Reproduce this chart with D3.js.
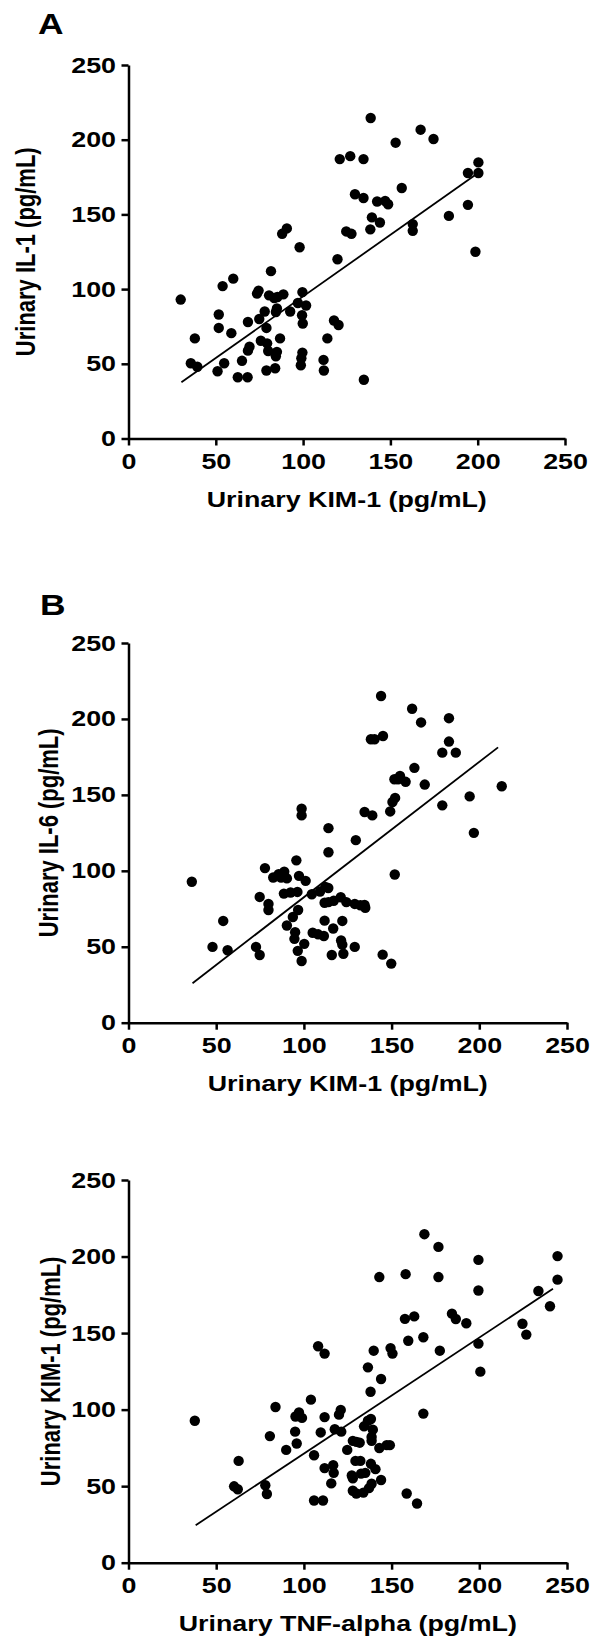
<!DOCTYPE html>
<html>
<head>
<meta charset="utf-8">
<script src="https://cdn.jsdelivr.net/npm/d3@7"></script>
<style>
  html, body { margin: 0; padding: 0; background: #fff; }
</style>
</head>
<body>
<div id="chart"></div>
<script>
/* ---------------- data ---------------- */

const axisTicks = [0, 50, 100, 150, 200, 250];

// panel A : KIM-1 (x) vs IL-1 (y)
const kimVsIl1 = [
  [29.9,93],[38,67],[35.7,50.4],[39.4,48],[51,45],[54.8,50.4],[51.7,83],[51.7,74],
  [53.9,102],[60,107],[58.9,70.5],[65,52],[62.6,41],[68.2,41],[68.4,78],[69.3,61.4],
  [68.4,58.8],[74.5,99],[73.6,97],[74.9,80],[78,85],[79,74],[75.8,65.4],[79.4,63.7],
  [80,58.6],[79,45.5],[81.6,112],[80.5,95.8],[83.5,94],[85.3,94.7],[85,87],[84.4,84.7],
  [85,58],[84.4,55],[84,47],[86.8,67],[88,137],[90.7,140.6],[88.7,96.5],[92.6,85],
  [98,128],[99.6,98],[97,90.7],[101.7,89],[99.4,82.5],[99.8,77],[99.6,57.5],[99,53.7],
  [98.7,49],[111.7,52.6],[111.9,45.5],[113.9,67],[117.7,79],[120.3,76],[119.7,120],
  [121,187],[127,189],[124.7,138.6],[127.7,137],[129.7,163.5],[134.6,187],[134.6,161],
  [134.8,39.3],[138.7,214.5],[138.5,140],[139.4,148],[144,144.6],[142.4,158.6],
  [148.7,156.8],[147,159],[153,198],[156.5,167.7],[162.8,143.5],[162.8,139],
  [167.3,206.7],[174.7,200.5],[183.5,149],[194.4,156.4],[194.4,177.7],[198.7,125],
  [200.4,184.8],[200.4,177.7]
];
const fitA = [[30.3, 37.7], [199.6, 177.2]];

// panel B : KIM-1 (x) vs IL-6 (y)
const kimVsIl6 = [
  [36.1,92.8],[47.9,49.9],[54,67],[56.5,47.7],[72.7,49.9],[74.8,44.6],[74.8,82.8],
  [79.8,78.2],[79.8,74.2],[77.8,101.8],[82.5,95.6],[85.6,97.8],[87,95.6],[88.8,99.4],
  [90.3,95],[88.6,85],[92.4,85.7],[95.7,106.9],[96.3,86.1],[90.3,64],[93.7,69.6],
  [96.7,74.2],[95,59.6],[94.6,55.2],[96.5,47.3],[98.7,40.6],[100.2,51.9],[98.7,140.9],
  [98.7,136.5],[97.2,96.7],[101,93.4],[104.5,84.6],[109.2,86.4],[112.2,89.4],
  [113.9,88.7],[111.8,79],[114,79.4],[117,80.3],[121,82.6],[124.2,79.4],[129,78.2],
  [132.2,77.3],[135,75.7],[134.6,77.5],[105,59.2],[108.1,58.2],[111.4,57.1],
  [111.8,67.2],[116.7,62],[115.9,44.6],[121.2,54.1],[121.9,51.4],[122.5,45.4],
  [121.9,67],[129,49.9],[114,128.1],[114,112.2],[129.6,120.2],[134.6,138.7],
  [139,136.5],[138.2,186.6],[140.3,186.6],[145.1,188.8],[144,215.1],[144.9,44.8],
  [149.8,38.9],[151.8,97.6],[149.2,139.1],[150.5,145.3],[152,148],[151.6,160.3],
  [154.8,162.5],[153.7,160.3],[158,158.6],[161.7,206.7],[163,167.8],[166.8,197.7],
  [168.9,156.8],[178.9,177.8],[178.9,143.1],[182.7,200.5],[182.7,185.1],[186.6,177.8],
  [194.5,149],[196.9,125],[212.8,155.7]
];
const fitB = [[36.5, 26], [210.7, 181.3]];

// panel C : TNF-alpha (x) vs KIM-1 (y)
const tnfVsKim = [
  [37.8,92.7],[60.2,49.9],[62.3,48],[62.8,66.5],[78,50.6],[78.9,44.9],[80.6,82.7],
  [83.8,101.7],[89.9,73.7],[95,85.6],[95.9,77.9],[95.2,95.5],[97.2,98.1],[98.9,94.6],
  [104,106.5],[105.8,70.2],[105.8,40.6],[110.9,40.6],[108.1,141.4],[111.8,136.6],
  [109.6,85.1],[111.8,95.1],[111.8,61.8],[116.7,63.7],[117,58.7],[115.6,51.8],
  [117.6,87.2],[120,96.7],[121,99.8],[121.3,85.6],[124.7,73.7],[127.9,79.6],[130,78.9],
  [131.8,78.4],[129.4,66.5],[132.2,66.5],[127.3,57],[127.9,55.1],[127.9,47],[129.9,45.2],
  [132.6,58.2],[133.9,45.8],[135,58.7],[134.3,89.1],[136.5,92.7],[138.2,93.9],
  [139.3,86.9],[138.6,82.1],[138.6,79.6],[138.2,64.6],[140.8,61.1],[137.1,48.7],
  [138.6,51.6],[143,74.9],[144,54],[147.2,76.8],[149,76.8],[136.5,127.6],[138,111.7],
  [144,120],[139.8,138.5],[149.4,140.2],[150.5,136.6],[143,186.6],[158,188.5],
  [157.6,159.3],[162.9,160.9],[159.5,145],[158.6,45.2],[164.5,38.7],[168.1,147.3],
  [168.1,97.4],[168.7,214.6],[176.7,206.3],[176.7,186.6],[177.5,138.5],[184.4,162.7],
  [186.6,159.2],[192.6,156.4],[199.5,197.8],[199.5,177.8],[199.5,143.1],[200.6,124.8],
  [224.6,156.1],[226.8,149],[233.7,177.5],[240.3,167.5],[244.6,200.3],[244.6,184.9]
];
const fitC = [[38.3, 24.5], [242, 178.9]];

/* ---------------- layout ---------------- */

const W = 593, H = 1643;
const SX = 1.22;          // text in the figure is horizontally stretched
const FONT = "'Liberation Sans', Arial, Helvetica, sans-serif";

const panels = [
  { tag: 'A', tagX: 38, tagY: 34, left: 128.5, right: 565, top: 65, bottom: 438.5,
    points: kimVsIl1, fit: fitA, yTitleX: 35,
    xTitle: 'Urinary KIM-1 (pg/mL)', yTitle: 'Urinary IL-1 (pg/mL)' },
  { tag: 'B', tagX: 40, tagY: 615, left: 128.5, right: 567, top: 643, bottom: 1022.7,
    points: kimVsIl6, fit: fitB, yTitleX: 58,
    xTitle: 'Urinary KIM-1 (pg/mL)', yTitle: 'Urinary IL-6 (pg/mL)' },
  { tag: null, left: 128.5, right: 567, top: 1180, bottom: 1562.7,
    points: tnfVsKim, fit: fitC, yTitleX: 60,
    xTitle: 'Urinary TNF-alpha (pg/mL)', yTitle: 'Urinary KIM-1 (pg/mL)' }
];

const svg = d3.select('#chart').append('svg')
  .attr('width', W).attr('height', H)
  .style('font-family', FONT);

svg.append('rect').attr('width', W).attr('height', H).attr('fill', '#fff');

function drawPanel(p) {
  const g = svg.append('g');

  const x = d3.scaleLinear().domain([0, 250]).range([p.left, p.right]);
  const y = d3.scaleLinear().domain([0, 250]).range([p.bottom, p.top]);

  // x axis
  const xg = g.append('g')
    .attr('transform', `translate(0,${p.bottom})`)
    .call(d3.axisBottom(x).tickValues(axisTicks).tickSize(7).tickSizeOuter(0).tickPadding(8));
  // y axis
  const yg = g.append('g')
    .attr('transform', `translate(${p.left},0)`)
    .call(d3.axisLeft(y).tickValues(axisTicks).tickSize(7).tickSizeOuter(0).tickPadding(5));

  [xg, yg].forEach((a) => {
    a.attr('font-family', FONT).attr('font-size', 22).attr('font-weight', 'bold');
    a.select('.domain').attr('stroke', '#000').attr('stroke-width', 2.5);
    a.selectAll('.tick line').attr('stroke', '#000').attr('stroke-width', 2.5);
    a.selectAll('.tick text').attr('fill', '#000');
  });
  xg.selectAll('.tick text').attr('transform', `scale(${SX},1)`);
  yg.selectAll('.tick text').attr('x', -12.5 / SX).attr('transform', `scale(${SX},1)`);

  // points
  g.append('g').selectAll('circle')
    .data(p.points)
    .enter()
    .append('circle')
    .attr('cx', (d) => x(d[0]))
    .attr('cy', (d) => y(d[1]))
    .attr('r', 5.2)
    .attr('fill', '#000');

  // regression line
  g.append('path')
    .datum(p.fit)
    .attr('d', d3.line().x((d) => x(d[0])).y((d) => y(d[1])))
    .attr('fill', 'none')
    .attr('stroke', '#000')
    .attr('stroke-width', 1.8);

  // titles
  g.append('text')
    .attr('transform', `translate(${(p.left + p.right) / 2},${p.bottom + 68}) scale(${SX},1)`)
    .attr('text-anchor', 'middle')
    .attr('font-size', 22).attr('font-weight', 'bold')
    .text(p.xTitle);

  g.append('text')
    .attr('transform', `translate(${p.yTitleX},${(p.top + p.bottom) / 2}) scale(${SX},1) rotate(-90)`)
    .attr('text-anchor', 'middle')
    .attr('font-size', 22).attr('font-weight', 'bold')
    .text(p.yTitle);

  if (p.tag) {
    g.append('text')
      .attr('transform', `translate(${p.tagX},${p.tagY}) scale(${SX},1)`)
      .attr('font-size', 29).attr('font-weight', 'bold')
      .text(p.tag);
  }
}

panels.forEach(drawPanel);
</script>
</body>
</html>
